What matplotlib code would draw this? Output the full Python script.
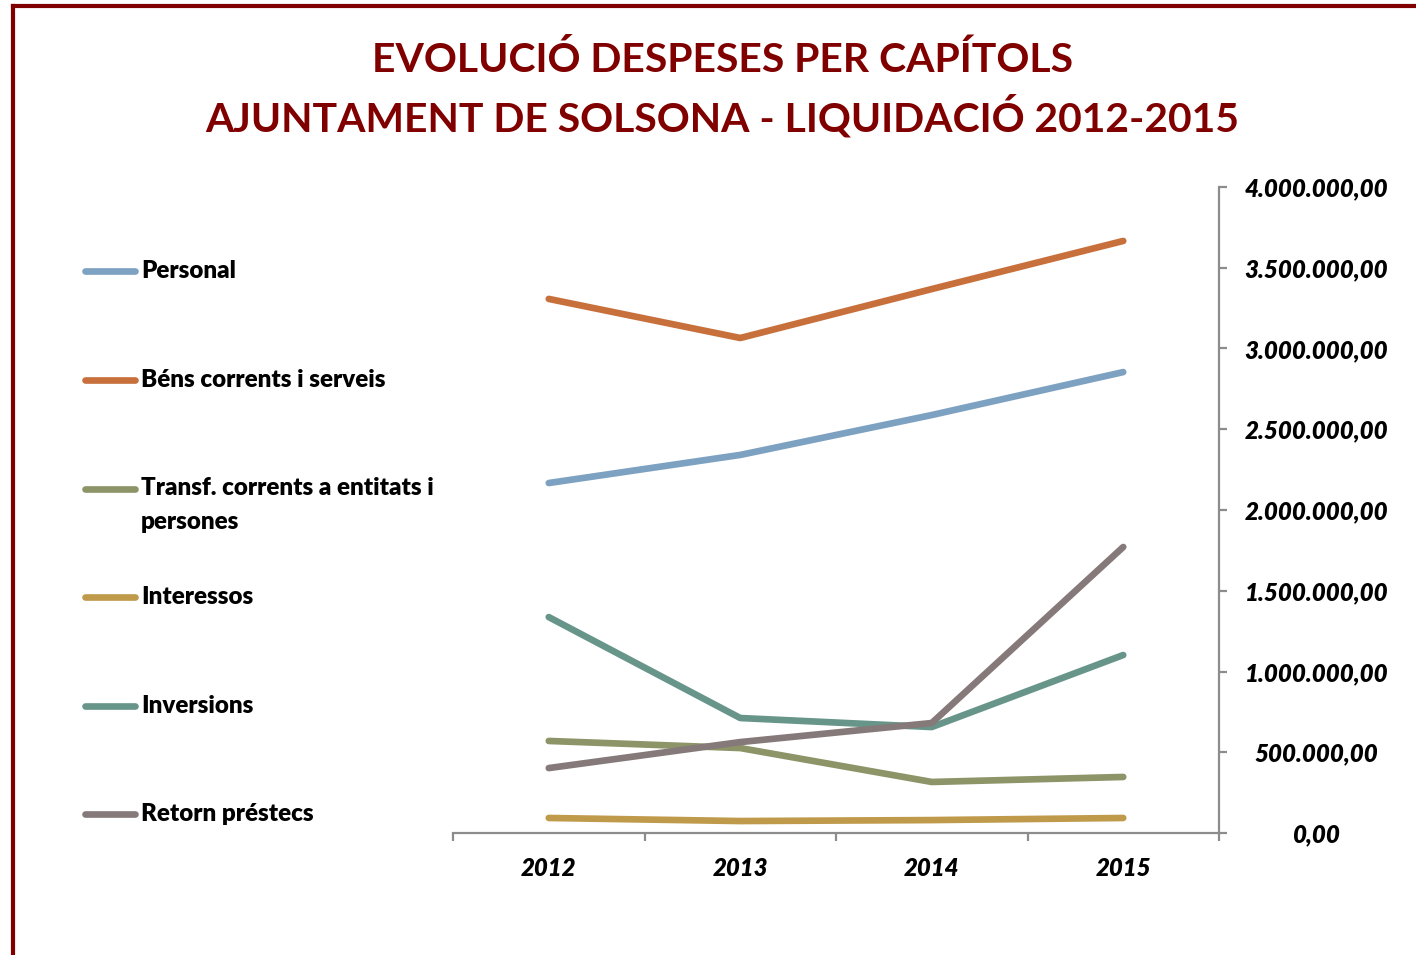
import matplotlib
matplotlib.use("Agg")
import matplotlib.pyplot as plt
from matplotlib.lines import Line2D
from matplotlib.ticker import FixedLocator, FuncFormatter

years = ["2012", "2013", "2014", "2015"]
series_names = ["Personal", "Béns corrents i serveis", "Transf. corrents a entitats i\npersones",
                "Interessos", "Inversions", "Retorn préstecs"]
personal = [2167000, 2341000, 2588000, 2854000]
bens = [3307000, 3065000, 3368000, 3666000]
transf = [570000, 526000, 316000, 347000]
interessos = [93000, 74000, 80000, 93000]
inversions = [1337000, 712000, 656000, 1102000]
retorn = [402000, 563000, 681000, 1771000]
values = [personal, bens, transf, interessos, inversions, retorn]
colors = ["#7DA1C1", "#C8703C", "#8C9468", "#C09A4B", "#68958A", "#857A79"]
yticks = [0, 500000, 1000000, 1500000, 2000000, 2500000, 3000000, 3500000, 4000000]

FONT = "Lato"
WEIGHT = "heavy"
DARKRED = "#800000"
AXCOL = "#8C8C8C"
LW = 4.8

W, H = 1416, 955
fig = plt.figure(figsize=(W / 100, H / 100), dpi=100)
fig.patch.set_facecolor("white")

def fx(px):
    return px / W

def fy(py):
    return 1 - py / H

ax = fig.add_axes([fx(453), fy(833), fx(1219) - fx(453), fy(187) - fy(833)])
x = list(range(len(years)))
for vals, c in zip(values, colors):
    ax.plot(x, vals, color=c, lw=LW, solid_capstyle="round", solid_joinstyle="round")

ax.set_xlim(-0.5, 3.5)
ax.set_ylim(0, 4000000)
for s in ["top", "left"]:
    ax.spines[s].set_visible(False)
for s in ["bottom", "right"]:
    ax.spines[s].set_color(AXCOL)
    ax.spines[s].set_linewidth(1.6)

ax.set_xticks(x)
ax.set_xticklabels(years)
ax.xaxis.set_minor_locator(FixedLocator([-0.5, 0.5, 1.5, 2.5, 3.5]))
ax.tick_params(axis="x", which="major", length=0, pad=17)
ax.tick_params(axis="x", which="minor", length=6, width=1.6, color=AXCOL, direction="out")
for lab in ax.get_xticklabels():
    lab.set_fontfamily(FONT)
    lab.set_fontweight(WEIGHT)
    lab.set_fontstyle("italic")
    lab.set_fontsize(17.3)

ax.yaxis.tick_right()
ax.set_yticks(yticks)
ax.yaxis.set_major_formatter(FuncFormatter(
    lambda v, p: f"{v:,.2f}".replace(",", "X").replace(".", ",").replace("X", ".")))
ax.tick_params(axis="y", length=6, width=1.6, color=AXCOL, direction="out", pad=64)
for lab in ax.get_yticklabels():
    lab.set_fontfamily(FONT)
    lab.set_fontweight(WEIGHT)
    lab.set_fontstyle("italic")
    lab.set_fontsize(17.4)
    lab.set_ha("center")

# Title
fig.text(fx(722), fy(60), "EVOLUCIÓ DESPESES PER CAPÍTOLS", ha="center", va="center",
         fontfamily=FONT, fontweight="bold", fontsize=29.4, color=DARKRED)
fig.text(fx(722), fy(117), "AJUNTAMENT DE SOLSONA - LIQUIDACIÓ 2012-2015", ha="center", va="center",
         fontfamily=FONT, fontweight="bold", fontsize=29.4, color=DARKRED)

# Legend (manual)
leg_y = [271, 380, 489, 597, 706, 814]
for name, c, py in zip(series_names, colors, leg_y):
    fig.add_artist(Line2D([fx(85), fx(135)], [fy(py), fy(py)], color=c, lw=LW,
                          solid_capstyle="round", transform=fig.transFigure))
    if "\n" in name:
        fig.text(fx(141), fy(py - 12), name, ha="left", va="top",
                 fontfamily=FONT, fontweight=WEIGHT, fontsize=17.4, color="black", linespacing=1.65)
    else:
        fig.text(fx(141), fy(py), name, ha="left", va="center",
                 fontfamily=FONT, fontweight=WEIGHT, fontsize=17.4, color="black")

# Border
fig.add_artist(Line2D([fx(13), fx(13)], [fy(6), 0], color=DARKRED, lw=3, transform=fig.transFigure))
fig.add_artist(Line2D([fx(13), 1], [fy(6), fy(6)], color=DARKRED, lw=3, transform=fig.transFigure))

fig.savefig("out.png", dpi=100, facecolor="white")
